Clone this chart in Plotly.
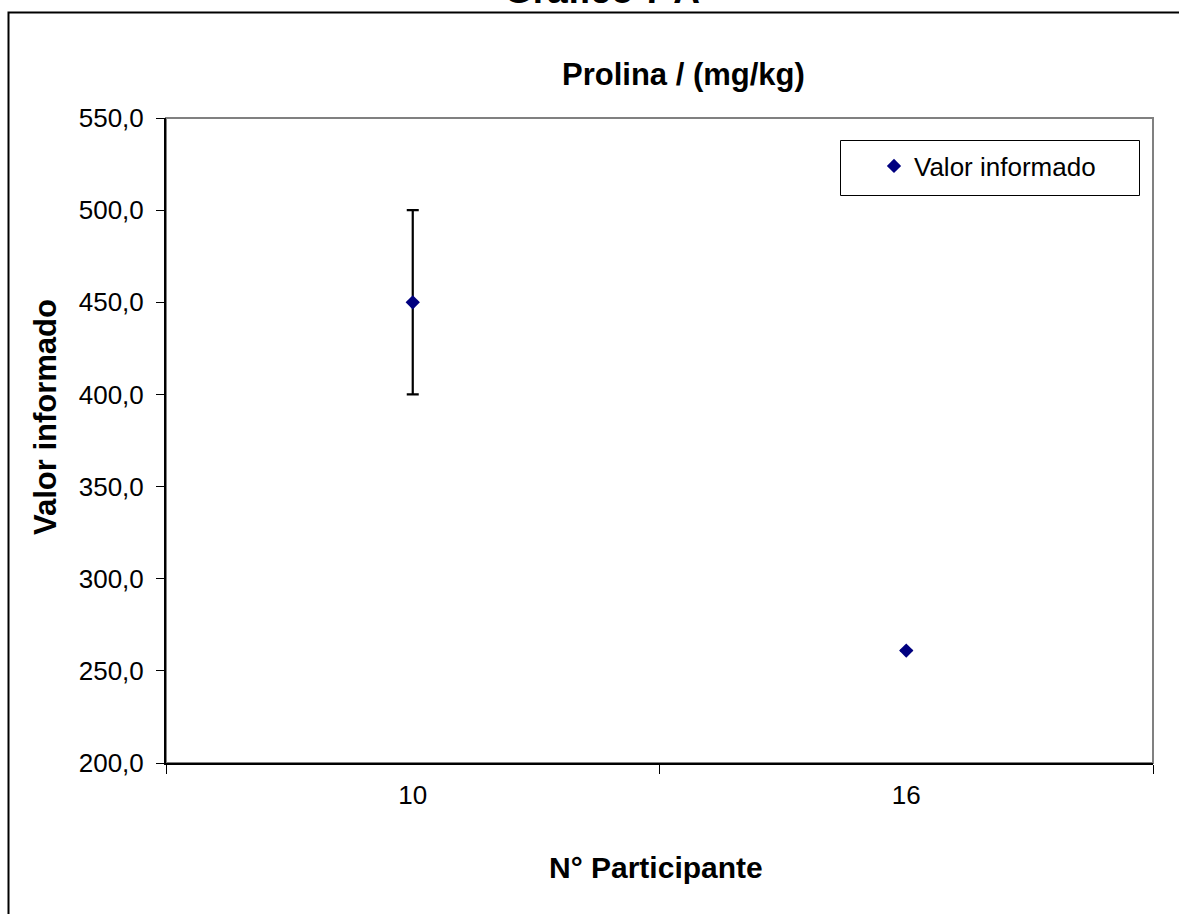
import plotly.graph_objects as go

participants = ["10", "16"]
values = [450.0, 261.0]
uncert = [50.0, None]
y_ticks = [200, 250, 300, 350, 400, 450, 500, 550]
y_tick_labels = ["200,0", "250,0", "300,0", "350,0", "400,0", "450,0", "500,0", "550,0"]

W, H = 1179, 914
L, R, T, B = 166, 1179 - 1153, 118, 914 - 763
PW, PH = W - L - R, H - T - B

def px(x):
    return (x - L) / PW

def py(y):
    return 1 - (y - T) / PH

FONT = "Liberation Sans, Arial, sans-serif"

fig = go.Figure()
fig.add_trace(go.Scatter(
    x=participants, y=values, mode="markers", name="Valor informado",
    marker=dict(symbol="diamond", size=11, color="#000080"),
    error_y=dict(type="data", array=uncert, visible=True, color="black",
                 thickness=2.2, width=6),
))

fig.update_layout(
    width=W, height=H,
    margin=dict(l=L, r=R, t=T, b=B, autoexpand=False),
    paper_bgcolor="white", plot_bgcolor="white",
    font=dict(family=FONT, color="black", size=26),
    showlegend=True,
    legend=dict(x=px(874), y=py(166), xanchor="left", yanchor="middle",
                borderwidth=0, bgcolor="rgba(0,0,0,0)",
                font=dict(size=26, family=FONT), indentation=0,
                itemwidth=30, tracegroupgap=0),
    xaxis=dict(type="category", range=[-0.5, 1.5], tickson="boundaries",
               ticks="outside", ticklen=9, tickcolor="black", tickwidth=1,
               showline=True, linecolor="black", linewidth=2, showgrid=False,
               zeroline=False, tickfont=dict(size=26), ticklabelstandoff=8),
    yaxis=dict(range=[200, 550], tickvals=y_ticks, ticktext=y_tick_labels,
               ticks="outside", ticklen=8, tickcolor="black", tickwidth=1,
               showline=True, linecolor="black", linewidth=2, showgrid=False,
               zeroline=False, tickfont=dict(size=26), ticklabelstandoff=7),
    shapes=[
        dict(type="rect", xref="paper", yref="paper", x0=0, x1=1, y0=0, y1=1,
             line=dict(color="#808080", width=2), layer="below"),
        dict(type="rect", xref="paper", yref="paper",
             x0=px(840.5), x1=px(1139.5), y0=py(195.5), y1=py(140.5),
             line=dict(color="black", width=1), fillcolor="white", layer="below"),
        dict(type="path", xref="paper", yref="paper",
             path=f"M {px(8.5)},{py(916)} L {px(8.5)},{py(12.5)} L {px(1181)},{py(12.5)}",
             line=dict(color="black", width=2)),
    ],
    annotations=[
        dict(text="<b>Gráfico 7 A</b>", xref="paper", yref="paper",
             x=px(602), y=py(-9), xanchor="center", yanchor="middle",
             showarrow=False, font=dict(size=37, family=FONT)),
        dict(text="<b>Prolina / (mg/kg)</b>", xref="paper", yref="paper",
             x=px(683), y=py(74), xanchor="center", yanchor="middle",
             showarrow=False, font=dict(size=31, family=FONT)),
        dict(text="<b>Valor informado</b>", xref="paper", yref="paper",
             x=px(45), y=py(417), xanchor="center", yanchor="middle",
             textangle=-90, showarrow=False, font=dict(size=31, family=FONT)),
        dict(text="<b>N° Participante</b>", xref="paper", yref="paper",
             x=px(656), y=py(867), xanchor="center", yanchor="middle",
             showarrow=False, font=dict(size=30, family=FONT)),
    ],
)

fig.write_html("out.html")
